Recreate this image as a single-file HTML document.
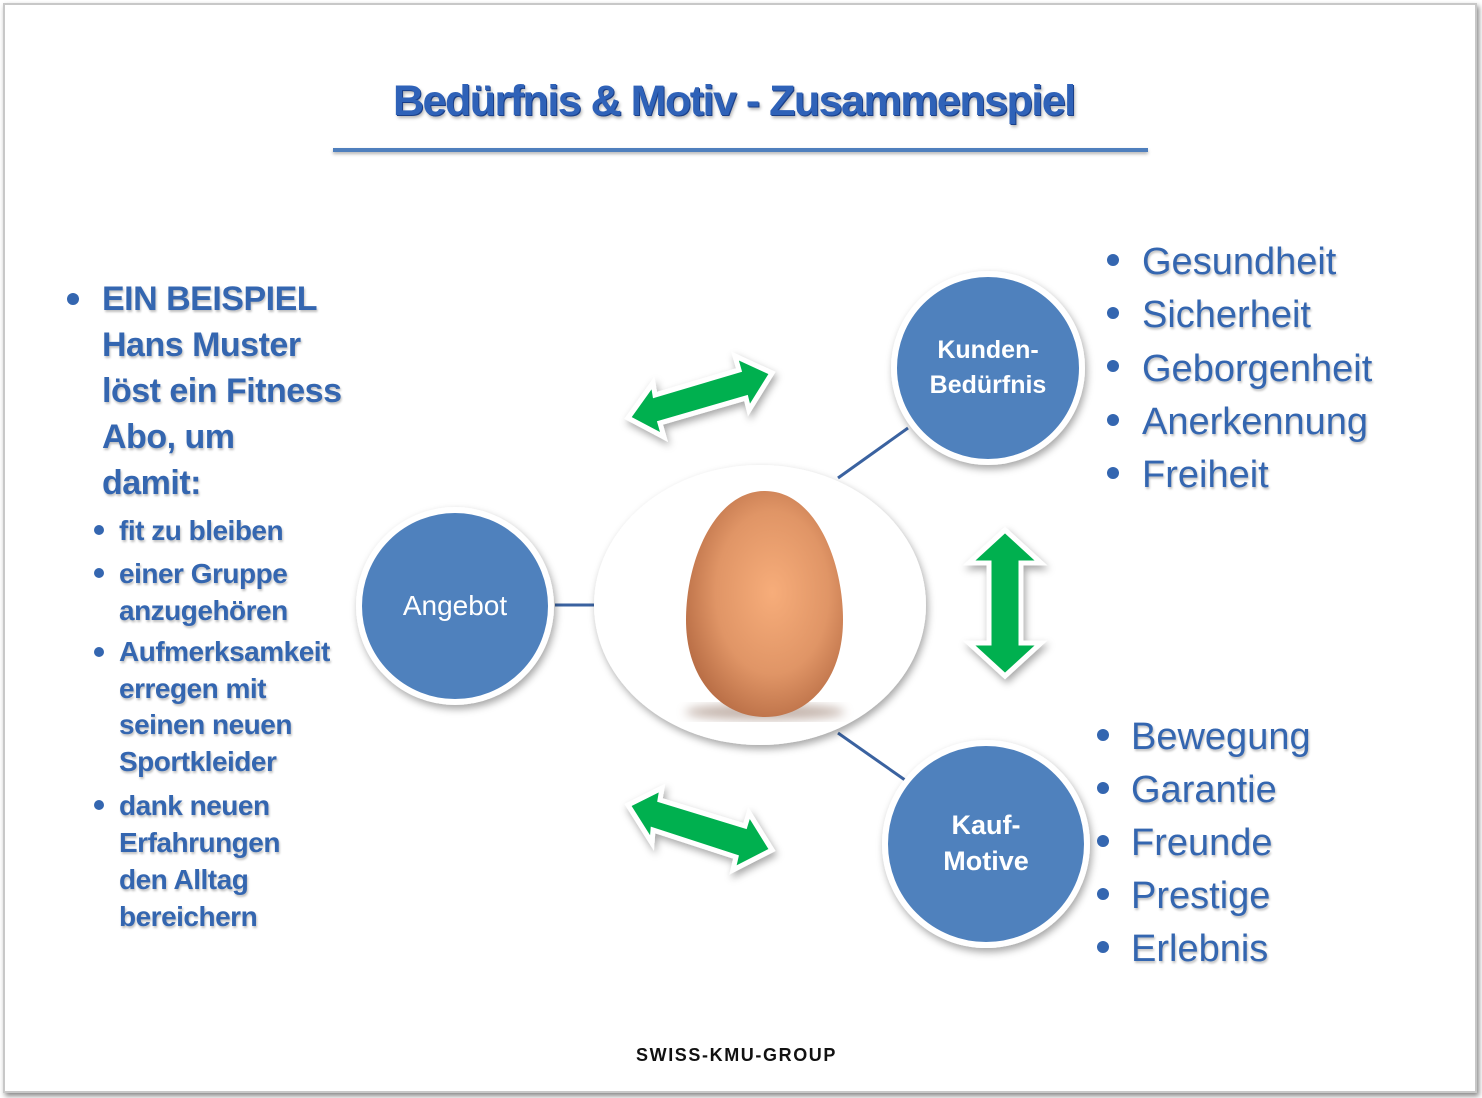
<!DOCTYPE html>
<html><head><meta charset="utf-8"><style>
body{margin:0;width:1482px;height:1098px;background:#fff;overflow:hidden;font-family:"Liberation Sans",sans-serif}
.frame{position:absolute;left:3px;top:3px;width:1470px;height:1086px;border:2px solid #c8c8c8;box-shadow:2px 3px 5px #888;background:#fff}
.t{position:absolute;color:#3466b0;text-shadow:1px 2px 2px rgba(0,0,0,.25);white-space:nowrap}
.dot{position:absolute;border-radius:50%;background:#3466b0}
</style></head><body>
<div class="frame"></div>
<div class="t" style="left:393px;top:77px;font-size:43px;font-weight:bold;color:#2f62b8;letter-spacing:-1.5px;text-shadow:1px 1px 0 #1a3f88,2px 3px 3px rgba(0,0,0,.3)">Bedürfnis &amp; Motiv - Zusammenspiel</div>
<div style="position:absolute;left:333px;top:148px;width:815px;height:4px;background:#4f7fbd;box-shadow:0 2px 3px rgba(0,0,0,.3)"></div>

<svg width="1482" height="1098" style="position:absolute;left:0;top:0">
<defs>
<radialGradient id="eg" cx="0.55" cy="0.45" r="0.6"><stop offset="0" stop-color="#f7ad7a"/><stop offset="0.6" stop-color="#e09566"/><stop offset="1" stop-color="#b86d45"/></radialGradient>
<filter id="sh" x="-20%" y="-20%" width="150%" height="150%"><feDropShadow dx="2" dy="4" stdDeviation="4" flood-opacity="0.35"/></filter>
<filter id="bl"><feGaussianBlur stdDeviation="5"/></filter>
</defs>
<g stroke="#3a62a0" stroke-width="3">
<line x1="838" y1="478" x2="908" y2="428"/><line x1="555" y1="605" x2="594" y2="605"/><line x1="838" y1="733" x2="905" y2="780"/>
</g>
<ellipse cx="760" cy="605" rx="166" ry="140" fill="#fff" filter="url(#sh)"/>
<ellipse cx="765" cy="712" rx="80" ry="8" fill="#8a6a5a" opacity="0.5" filter="url(#bl)"/>
<path d="M765 491 C815 491 843 560 843 620 C843 680 808 717 765 717 C722 717 686 680 686 620 C686 560 715 491 765 491Z" fill="url(#eg)"/>
<g fill="#4f81bd" stroke="#fff" stroke-width="6" filter="url(#sh)">
<circle cx="988" cy="368" r="94"/><circle cx="455" cy="606" r="96"/><circle cx="986" cy="844" r="101"/>
</g>
<g fill="#00b050" stroke="#fff" stroke-width="5" stroke-linejoin="miter" filter="url(#sh)">
<polygon points="628,418 653,383 655,395 739,370 735,356 772,373 749,410 746,398 660,423 664,437" />
<polygon points="628,805 662,788 660,800 745,826 749,813 772,850 733,870 736,857 653,830 652,843" />
<polygon points="1005,530 1041,563 1021,563 1021,643 1041,643 1005,676 969,643 989,643 989,563 969,563"/>
</g>
<g fill="#fff" font-family="Liberation Sans,sans-serif" text-anchor="middle">
<text x="988" y="358" font-size="25" font-weight="bold">Kunden-</text><text x="988" y="393" font-size="25" font-weight="bold">Bedürfnis</text>
<text x="455" y="615" font-size="28">Angebot</text>
<text x="986" y="834" font-size="27" font-weight="bold">Kauf-</text><text x="986" y="870" font-size="27" font-weight="bold">Motive</text>
</g>
</svg>

<div class="dot" style="left:67px;top:293px;width:12px;height:12px"></div>
<div class="t" style="left:102px;top:276px;font-size:34px;line-height:46px;font-weight:bold;letter-spacing:-0.5px">EIN BEISPIEL<br>Hans Muster<br>löst ein Fitness<br>Abo, um<br>damit:</div>
<div class="dot" style="left:94px;top:525px;width:10px;height:10px"></div>
<div class="dot" style="left:94px;top:568px;width:10px;height:10px"></div>
<div class="dot" style="left:94px;top:647px;width:10px;height:10px"></div>
<div class="dot" style="left:94px;top:800px;width:10px;height:10px"></div>
<div class="t" style="left:119px;top:512px;font-size:28px;line-height:37px;font-weight:bold;letter-spacing:-0.5px">fit zu bleiben</div>
<div class="t" style="left:119px;top:555px;font-size:28px;line-height:37px;font-weight:bold;letter-spacing:-0.5px">einer Gruppe<br>anzugehören</div>
<div class="t" style="left:119px;top:634px;font-size:28px;line-height:36.5px;font-weight:bold;letter-spacing:-0.5px">Aufmerksamkeit<br>erregen mit<br>seinen neuen<br>Sportkleider</div>
<div class="t" style="left:119px;top:787px;font-size:28px;line-height:37px;font-weight:bold;letter-spacing:-0.5px">dank neuen<br>Erfahrungen<br>den Alltag<br>bereichern</div>

<div class="dot" style="left:1107px;top:254px;width:12px;height:12px"></div>
<div class="dot" style="left:1107px;top:307px;width:12px;height:12px"></div>
<div class="dot" style="left:1107px;top:360px;width:12px;height:12px"></div>
<div class="dot" style="left:1107px;top:414px;width:12px;height:12px"></div>
<div class="dot" style="left:1107px;top:467px;width:12px;height:12px"></div>
<div class="t" style="left:1142px;top:236px;font-size:38px;line-height:53.3px">Gesundheit<br>Sicherheit<br>Geborgenheit<br>Anerkennung<br>Freiheit</div>

<div class="dot" style="left:1097px;top:729px;width:12px;height:12px"></div>
<div class="dot" style="left:1097px;top:782px;width:12px;height:12px"></div>
<div class="dot" style="left:1097px;top:835px;width:12px;height:12px"></div>
<div class="dot" style="left:1097px;top:888px;width:12px;height:12px"></div>
<div class="dot" style="left:1097px;top:941px;width:12px;height:12px"></div>
<div class="t" style="left:1131px;top:711px;font-size:38px;line-height:53px">Bewegung<br>Garantie<br>Freunde<br>Prestige<br>Erlebnis</div>

<div style="position:absolute;left:636px;top:1045px;font-size:18px;font-weight:bold;color:#111;letter-spacing:1.6px">SWISS-KMU-GROUP</div>
</body></html>
